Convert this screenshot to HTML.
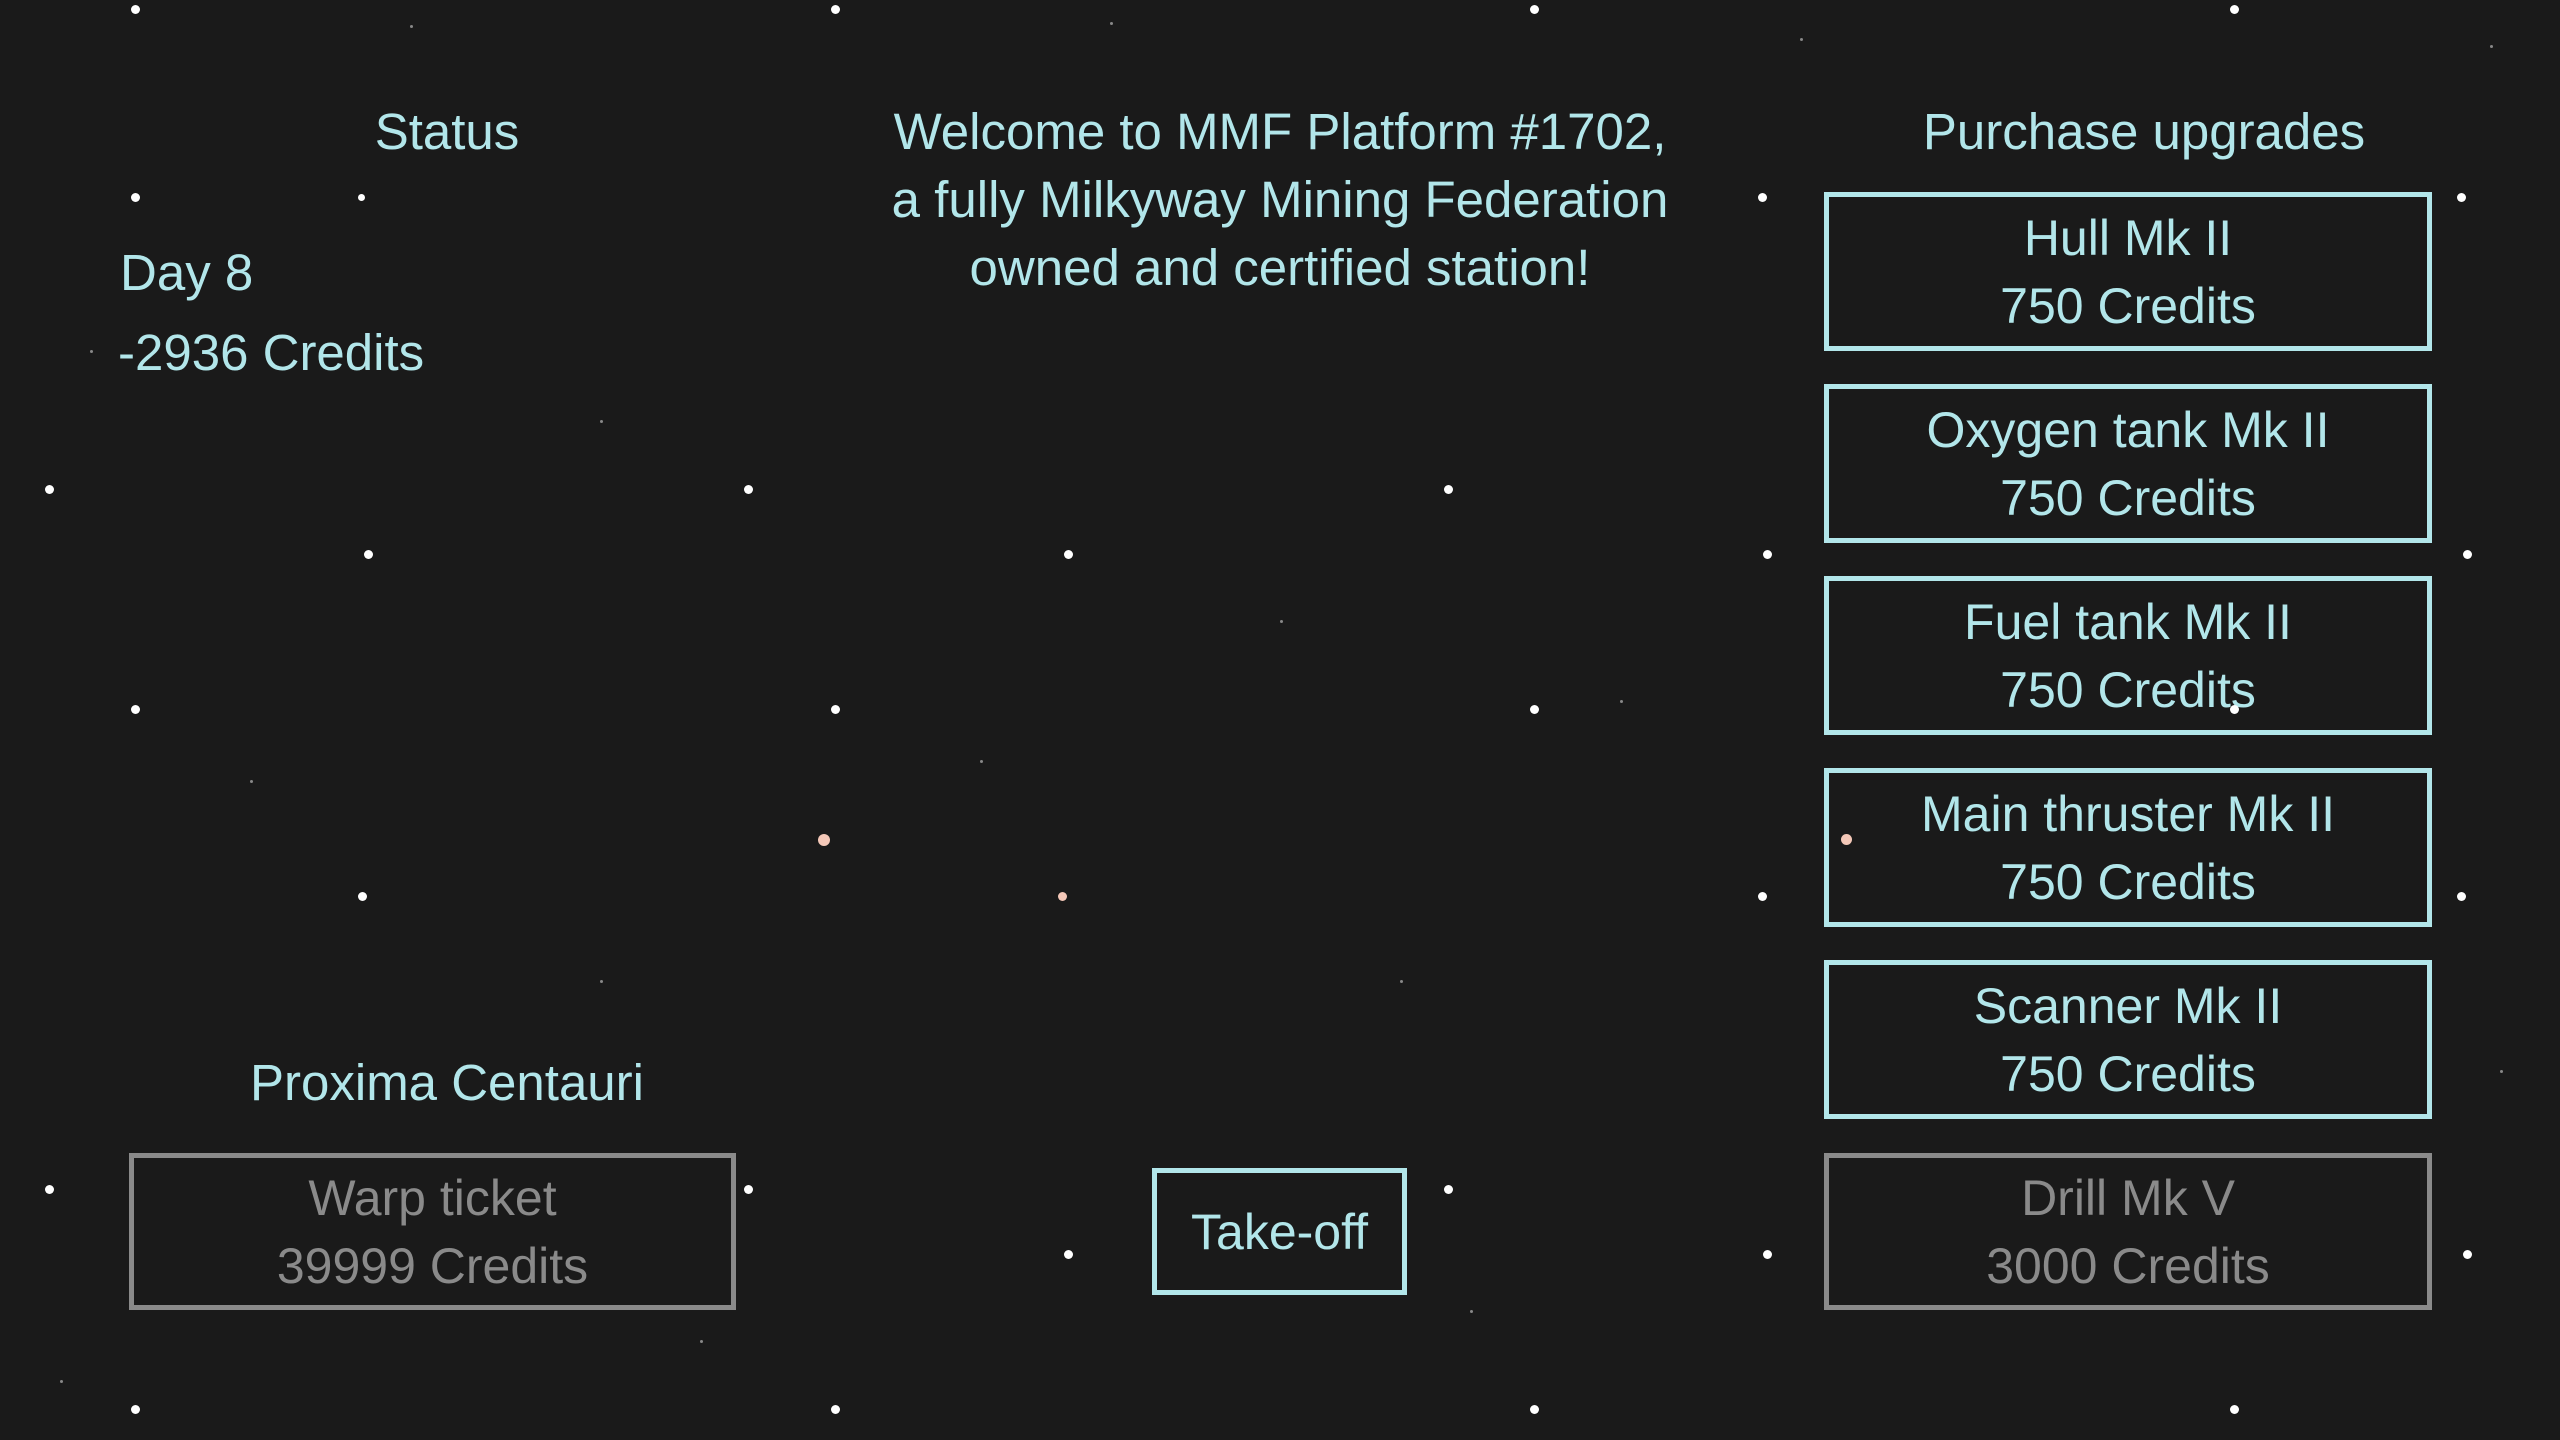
<!DOCTYPE html>
<html><head><style>
html,body{margin:0;padding:0}
body{width:2560px;height:1440px;background:#1a1a1a;position:relative;overflow:hidden;font-family:"Liberation Sans",sans-serif;color:#b2e6ea}
.t{position:absolute;white-space:nowrap;font-size:51px;line-height:68px}
.c{transform:translateX(-50%);text-align:center}
.b{position:absolute;box-sizing:border-box;border:5px solid #b2e6ea;display:flex;flex-direction:column;align-items:center;justify-content:center;font-size:50px;line-height:68px}
.g{border-color:#8a8a8a;color:#8a8a8a}
.s{position:absolute;border-radius:50%;background:#fff}
.d{position:absolute;width:3px;height:3px;background:#888;border-radius:50%}
</style></head><body>
<div class="t c" style="left:447px;top:98px">Status</div>
<div class="t c" style="left:1280px;top:98px;line-height:68px">Welcome to MMF Platform #1702,<br>a fully Milkyway Mining Federation<br>owned and certified station!</div>
<div class="t c" style="left:2144px;top:98px">Purchase upgrades</div>
<div class="t" style="left:120px;top:239px">Day 8</div>
<div class="t" style="left:118px;top:319px">-2936 Credits</div>
<div class="t c" style="left:447px;top:1049px">Proxima Centauri</div>
<div class="b g" style="left:129px;top:1153px;width:607px;height:157px"><div>Warp ticket</div><div>39999 Credits</div></div>
<div class="b" style="left:1152px;top:1168px;width:255px;height:127px"><div>Take-off</div></div>
<div class="b" style="left:1824px;top:192px;width:608px;height:159px"><div>Hull Mk II</div><div>750 Credits</div></div>
<div class="b" style="left:1824px;top:384px;width:608px;height:159px"><div>Oxygen tank Mk II</div><div>750 Credits</div></div>
<div class="b" style="left:1824px;top:576px;width:608px;height:159px"><div>Fuel tank Mk II</div><div>750 Credits</div></div>
<div class="b" style="left:1824px;top:768px;width:608px;height:159px"><div>Main thruster Mk II</div><div>750 Credits</div></div>
<div class="b" style="left:1824px;top:960px;width:608px;height:159px"><div>Scanner Mk II</div><div>750 Credits</div></div>
<div class="b g" style="left:1824px;top:1153px;width:608px;height:157px"><div>Drill Mk V</div><div>3000 Credits</div></div>
<div class="s" style="left:131px;top:5px;width:9px;height:9px"></div>
<div class="s" style="left:831px;top:5px;width:9px;height:9px"></div>
<div class="s" style="left:1530px;top:5px;width:9px;height:9px"></div>
<div class="s" style="left:2230px;top:5px;width:9px;height:9px"></div>
<div class="s" style="left:131px;top:193px;width:9px;height:9px"></div>
<div class="s" style="left:358px;top:194px;width:7px;height:7px"></div>
<div class="s" style="left:1758px;top:193px;width:9px;height:9px"></div>
<div class="s" style="left:2457px;top:193px;width:9px;height:9px"></div>
<div class="s" style="left:45px;top:485px;width:9px;height:9px"></div>
<div class="s" style="left:744px;top:485px;width:9px;height:9px"></div>
<div class="s" style="left:1444px;top:485px;width:9px;height:9px"></div>
<div class="s" style="left:364px;top:550px;width:9px;height:9px"></div>
<div class="s" style="left:1064px;top:550px;width:9px;height:9px"></div>
<div class="s" style="left:1763px;top:550px;width:9px;height:9px"></div>
<div class="s" style="left:2463px;top:550px;width:9px;height:9px"></div>
<div class="s" style="left:131px;top:705px;width:9px;height:9px"></div>
<div class="s" style="left:831px;top:705px;width:9px;height:9px"></div>
<div class="s" style="left:1530px;top:705px;width:9px;height:9px"></div>
<div class="s" style="left:2230px;top:705px;width:9px;height:9px"></div>
<div class="s" style="left:818px;top:834px;width:12px;height:12px;background:#f4c8b8"></div>
<div class="s" style="left:1841px;top:834px;width:11px;height:11px;background:#f4c8b8"></div>
<div class="s" style="left:1058px;top:892px;width:9px;height:9px;background:#f4c8b8"></div>
<div class="s" style="left:358px;top:892px;width:9px;height:9px"></div>
<div class="s" style="left:1758px;top:892px;width:9px;height:9px"></div>
<div class="s" style="left:2457px;top:892px;width:9px;height:9px"></div>
<div class="s" style="left:45px;top:1185px;width:9px;height:9px"></div>
<div class="s" style="left:744px;top:1185px;width:9px;height:9px"></div>
<div class="s" style="left:1444px;top:1185px;width:9px;height:9px"></div>
<div class="s" style="left:1064px;top:1250px;width:9px;height:9px"></div>
<div class="s" style="left:1763px;top:1250px;width:9px;height:9px"></div>
<div class="s" style="left:2463px;top:1250px;width:9px;height:9px"></div>
<div class="s" style="left:131px;top:1405px;width:9px;height:9px"></div>
<div class="s" style="left:831px;top:1405px;width:9px;height:9px"></div>
<div class="s" style="left:1530px;top:1405px;width:9px;height:9px"></div>
<div class="s" style="left:2230px;top:1405px;width:9px;height:9px"></div>
<div class="d" style="left:410px;top:25px"></div><div class="d" style="left:1110px;top:22px"></div>
<div class="d" style="left:1800px;top:38px"></div><div class="d" style="left:2490px;top:45px"></div>
<div class="d" style="left:90px;top:350px"></div><div class="d" style="left:600px;top:420px"></div>
<div class="d" style="left:1280px;top:620px"></div><div class="d" style="left:1400px;top:980px"></div>
<div class="d" style="left:250px;top:780px"></div><div class="d" style="left:600px;top:980px"></div>
<div class="d" style="left:980px;top:760px"></div><div class="d" style="left:1620px;top:700px"></div>
<div class="d" style="left:2500px;top:1070px"></div><div class="d" style="left:1470px;top:1310px"></div>
<div class="d" style="left:60px;top:1380px"></div><div class="d" style="left:700px;top:1340px"></div>
</body></html>
